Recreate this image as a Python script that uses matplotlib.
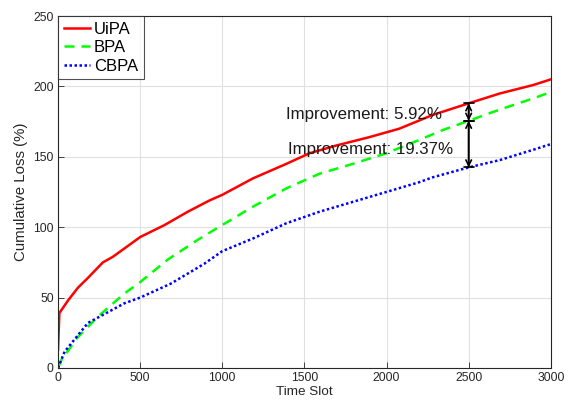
import matplotlib
matplotlib.use("Agg")
import matplotlib.pyplot as plt

plt.rcParams['font.family'] = ['Liberation Sans', 'DejaVu Sans']

# Data
t_uipa = [0, 8, 61, 121, 182, 273, 334, 500, 648, 790, 922, 1000, 1187, 1390, 1530,
          1693, 1896, 2078, 2280, 2500, 2690, 2893, 3000]
v_uipa = [13, 39, 48, 57, 64, 75, 79, 93, 101.5, 111, 119, 123, 134.7, 145, 152.5,
          158, 164, 170, 179.7, 188, 195, 201, 205]

t_bpa = [0, 20, 121, 243, 405, 500, 668, 850, 992, 1187, 1390, 1592, 1795, 1998,
         2200, 2342, 2500, 2690, 2893, 3000]
v_bpa = [0, 5.6, 22, 36.5, 53, 61, 77, 91, 101, 114.6, 127.6, 138, 145, 152.5,
         162, 169, 175.6, 183.6, 191.5, 196]

t_cbpa = [0, 40, 182, 405, 500, 688, 890, 1000, 1187, 1390, 1592, 1795, 1998, 2200,
          2280, 2500, 2690, 2893, 3000]
v_cbpa = [0, 11.6, 32, 46, 50, 60, 74, 83, 92, 102.8, 111, 118, 125, 132,
          135.4, 142.5, 147.7, 155, 159]

arrow_t = 2500
arrow_uipa = 188
arrow_bpa = 175.6
arrow_cbpa = 142.5
label1 = "Improvement: 5.92%"
label2 = "Improvement: 19.37%"

fig = plt.figure(figsize=(5.69, 4.05), dpi=100)
ax = fig.add_axes([0.102, 0.0914, 0.866, 0.869])

ax.plot(t_uipa, v_uipa, color='#ff0000', lw=1.8, label='UiPA')
ax.plot(t_bpa, v_bpa, color='#00ff00', lw=1.8, ls=(0, (4, 2.8)), label='BPA')
ax.plot(t_cbpa, v_cbpa, color='#0000ff', lw=1.8, ls=(0, (1, 1)), label='CBPA')

for y0, y1 in [(arrow_uipa, arrow_bpa), (arrow_bpa, arrow_cbpa)]:
    ax.annotate('', xy=(arrow_t, y1), xytext=(arrow_t, y0),
                arrowprops=dict(arrowstyle='<->', color='black', lw=1.2,
                                shrinkA=0, shrinkB=0, mutation_scale=10))
    ax.annotate('', xy=(arrow_t, y1), xytext=(arrow_t, y0),
                arrowprops=dict(arrowstyle='|-|, widthA=0.35, widthB=0.35', color='black', lw=1.2,
                                shrinkA=0, shrinkB=0))

ax.text(1862, 180.4, label1, ha='center', va='center', fontsize=12.2, color='#1a1a1a')
ax.text(1905, 155, label2, ha='center', va='center', fontsize=12.2, color='#1a1a1a')

ax.set_xlim(0, 3000)
ax.set_ylim(0, 250)
ax.set_xticks([0, 500, 1000, 1500, 2000, 2500, 3000])
ax.set_yticks([0, 50, 100, 150, 200, 250])
ax.grid(True, color='#e0e0e0', lw=0.8)
ax.set_axisbelow(True)
ax.tick_params(direction='in', length=4, labelsize=8.8, colors='#262626', width=0.6, pad=3)
for s in ax.spines.values():
    s.set_color('#262626')
    s.set_linewidth(0.8)
ax.set_xlabel('Time Slot', fontsize=9.7, color='#262626', labelpad=1)
ax.set_ylabel('Cumulative Loss (%)', fontsize=10.8, color='#262626', labelpad=4)

leg = ax.legend(loc='upper left', fontsize=12, frameon=True, fancybox=False,
                edgecolor='#262626', handlelength=1.55, handletextpad=0.25,
                borderpad=0.35, labelspacing=0.2, borderaxespad=0)
leg.get_frame().set_linewidth(0.8)

fig.savefig('out.png', dpi=100)
